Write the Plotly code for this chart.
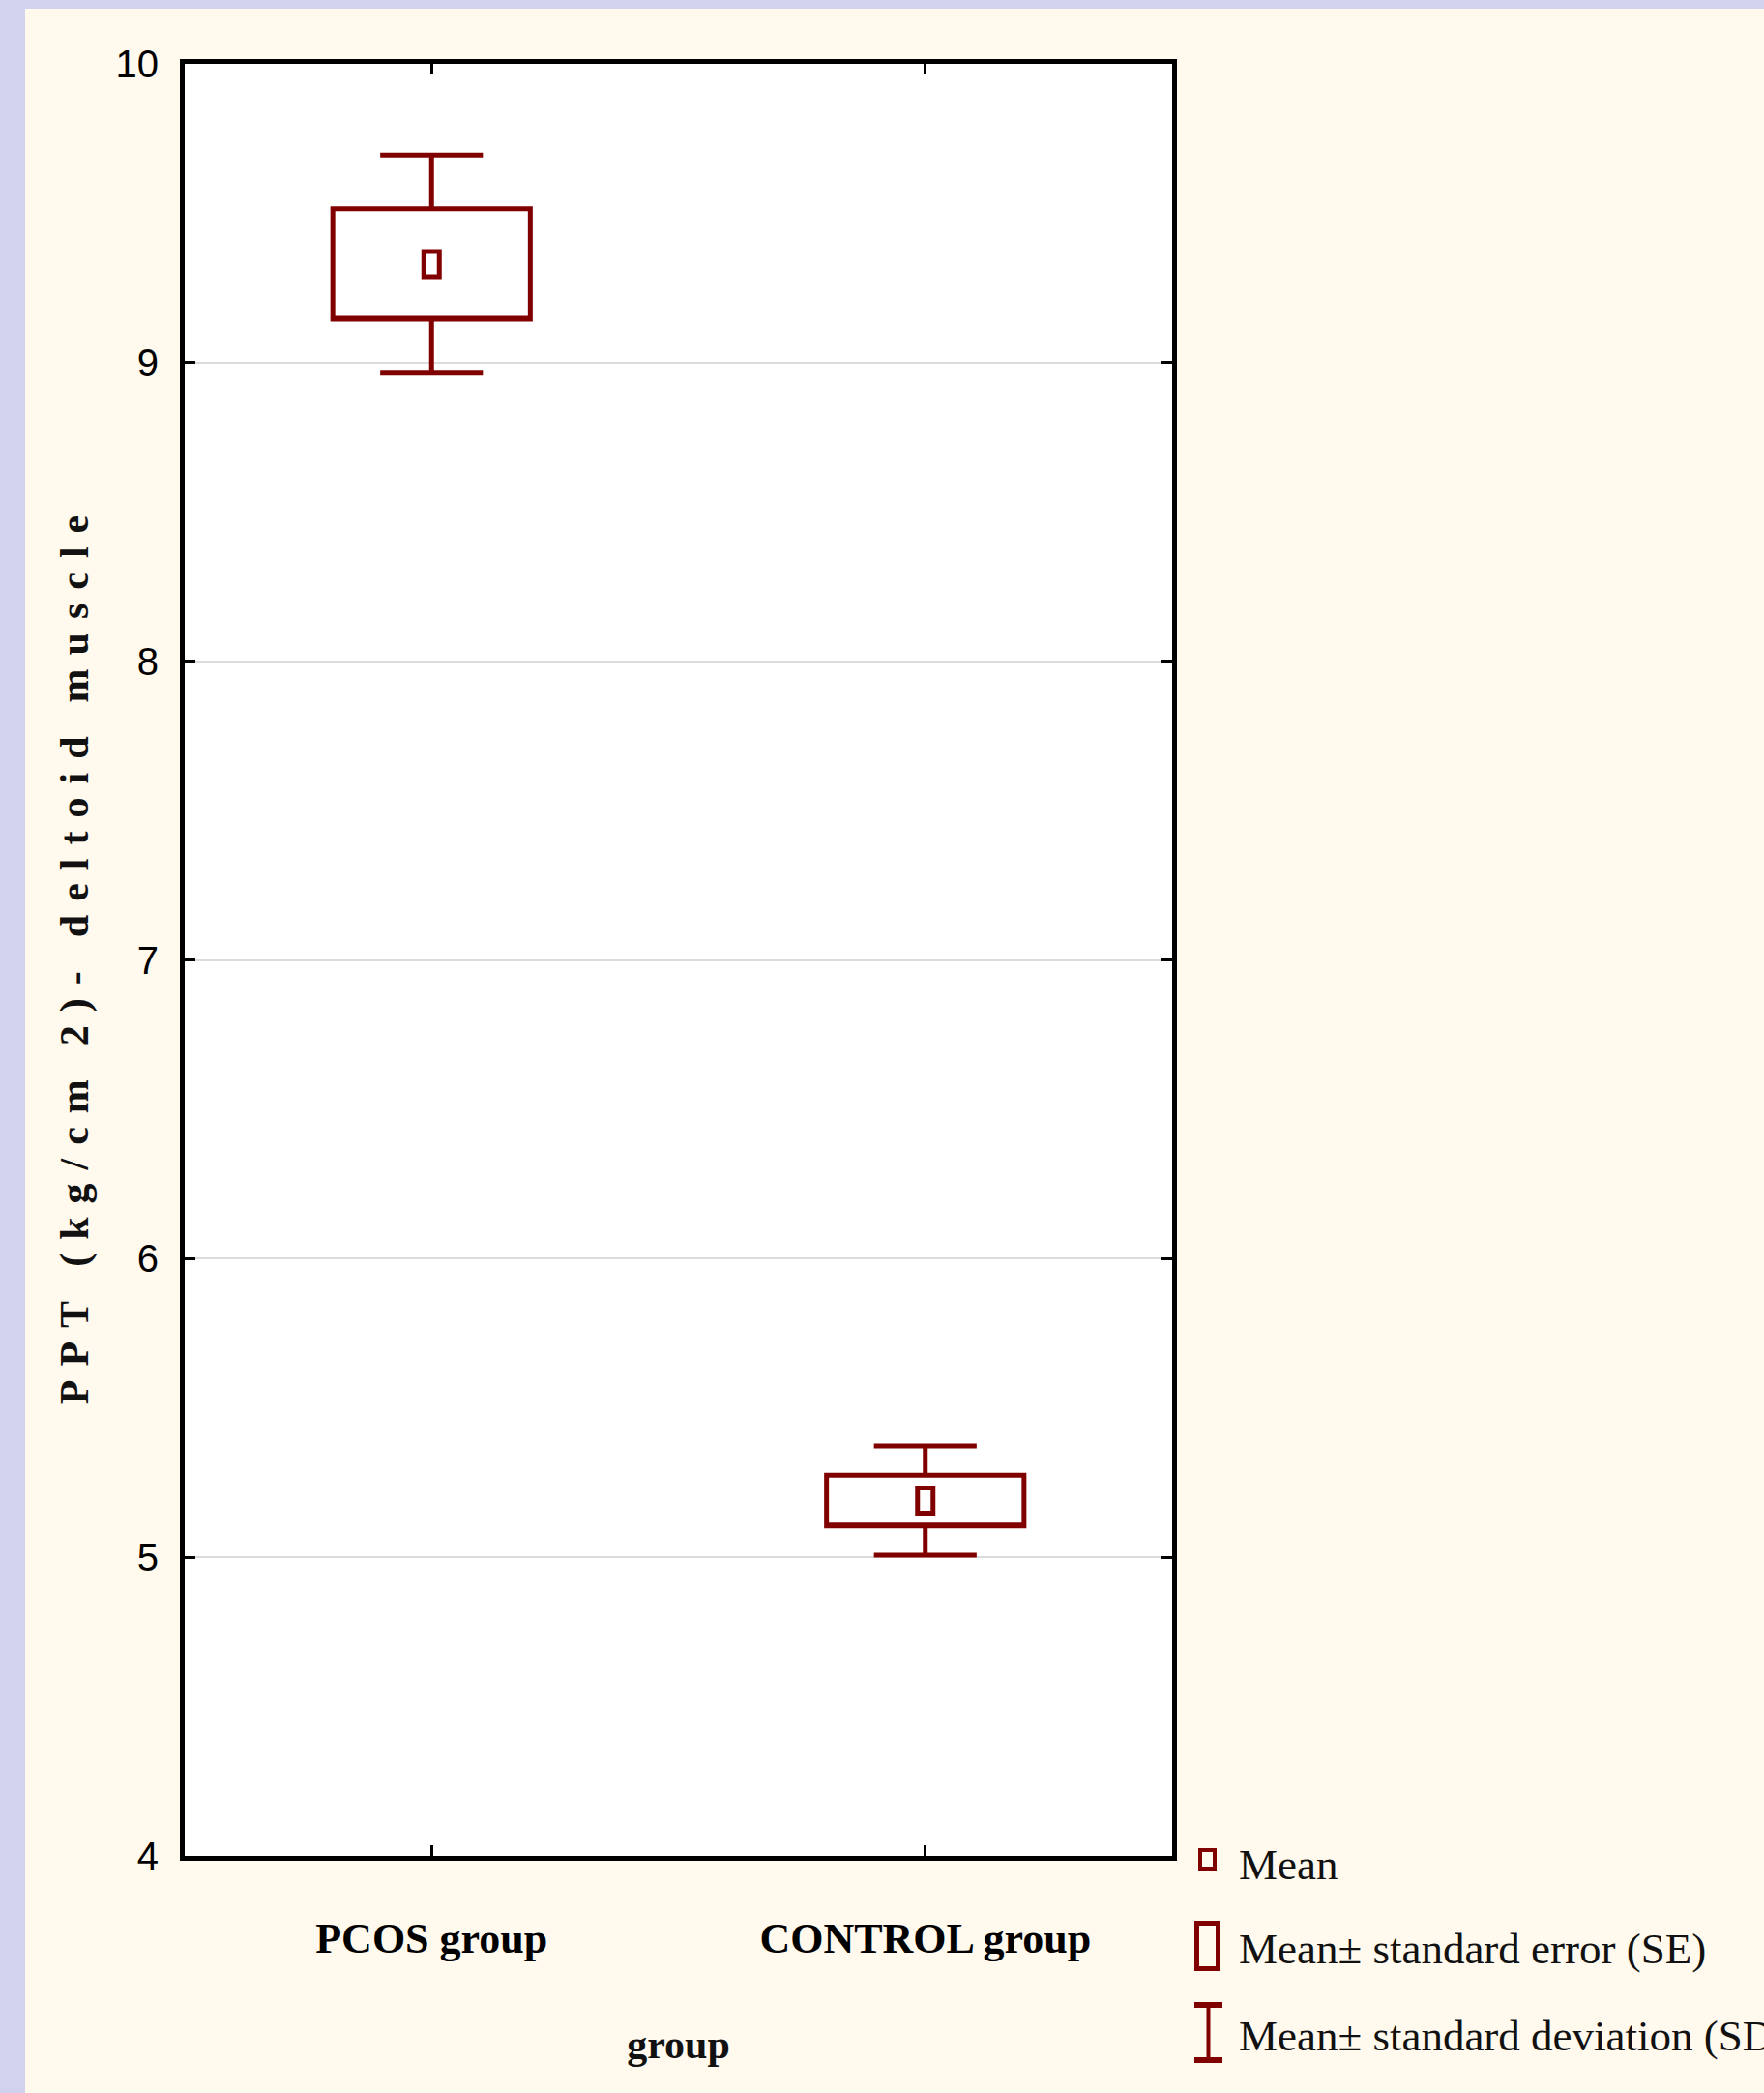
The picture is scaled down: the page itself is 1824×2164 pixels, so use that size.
import plotly.graph_objects as go

# ---------------- data ----------------
categories = ["PCOS group", "CONTROL group"]
mean_values = [9.33, 5.19]
se_values = [0.185, 0.085]
sd_values = [0.365, 0.183]
y_tick_values = [4, 5, 6, 7, 8, 9, 10]
y_tick_labels = ["4", "5", "6", "7", "8", "9", "10"]
legend_labels = ["Mean", "Mean\u00b1 standard error (SE)", "Mean\u00b1 standard deviation (SD)"]
x_title_text = "group"
y_title_text = "PPT (kg/cm 2)- deltoid muscle"

# ---------------- style ----------------
W, H = 1824, 2164
PL, PR, PT, PB = 191, 1212, 66, 1919     # plot area in pixels
DARK = "#800000"
CREAM = "#FFF9EE"
LAVENDER = "#D2D2EE"
SERIF = "Liberation Serif, Times New Roman, serif"
SANS = "Liberation Sans Narrow, Arial Narrow, Liberation Sans, Arial, sans-serif"

def xp(px):
    return (px - PL) / (PR - PL)

def yp(py):
    return (PB - py) / (PB - PT)

# spaced-out y title (letter spacing as in the original)
LETTER_GAP = "\u2004"
WORD_GAP = "\u2002\u2004"
y_title_spaced = WORD_GAP.join(LETTER_GAP.join(w) for w in y_title_text.split(" "))

q1 = [m - s for m, s in zip(mean_values, se_values)]
q3 = [m + s for m, s in zip(mean_values, se_values)]
lo = [m - d for m, d in zip(mean_values, sd_values)]
hi = [m + d for m, d in zip(mean_values, sd_values)]

fig = go.Figure()
fig.add_trace(go.Box(
    x=categories, q1=q1, median=q1, q3=q3, lowerfence=lo, upperfence=hi,
    width=0.4, whiskerwidth=0.52, boxpoints=False,
    line=dict(color=DARK, width=5), fillcolor="white",
    showlegend=False, hoverinfo="skip",
))

# mean markers (small open rectangles anchored at the mean)
for c, m in zip(categories, mean_values):
    fig.add_shape(type="rect", xref="x", yref="y",
                  xsizemode="pixel", ysizemode="pixel", xanchor=c, yanchor=m,
                  x0=-8, x1=8, y0=-13, y1=13,
                  line=dict(color=DARK, width=5), fillcolor="white", layer="above")

# lavender strips (left and top)
fig.add_shape(type="rect", xref="paper", yref="paper",
              x0=xp(0), x1=xp(26), y0=yp(H), y1=yp(0),
              line=dict(width=0), fillcolor=LAVENDER, layer="below")
fig.add_shape(type="rect", xref="paper", yref="paper",
              x0=xp(0), x1=xp(W), y0=yp(9), y1=yp(0),
              line=dict(width=0), fillcolor=LAVENDER, layer="below")

# ---------------- custom legend ----------------
LX = 1279
legend_y = [1928, 2015, 2105]
for lab, ly in zip(legend_labels, legend_y):
    fig.add_annotation(xref="paper", yref="paper", x=xp(LX), y=yp(ly),
                       xanchor="left", yanchor="middle", showarrow=False,
                       text=lab, font=dict(family=SERIF, size=45, color="#111111"))
# mean symbol
fig.add_shape(type="rect", xref="paper", yref="paper",
              x0=xp(1241), x1=xp(1256), y0=yp(1932), y1=yp(1913),
              line=dict(color=DARK, width=4), fillcolor="rgba(0,0,0,0)")
# SE symbol
fig.add_shape(type="rect", xref="paper", yref="paper",
              x0=xp(1237.5), x1=xp(1259.5), y0=yp(2035.5), y1=yp(1988.5),
              line=dict(color=DARK, width=5), fillcolor="rgba(0,0,0,0)")
# SD symbol
fig.add_shape(type="line", xref="paper", yref="paper",
              x0=xp(1249.5), x1=xp(1249.5), y0=yp(2130), y1=yp(2073),
              line=dict(color=DARK, width=4))
for yy in (2073, 2130):
    fig.add_shape(type="line", xref="paper", yref="paper",
                  x0=xp(1235), x1=xp(1264), y0=yp(yy), y1=yp(yy),
                  line=dict(color=DARK, width=6))

fig.update_layout(
    width=W, height=H,
    margin=dict(l=PL, r=W - PR, t=PT, b=H - PB, pad=0, autoexpand=False),
    paper_bgcolor=CREAM, plot_bgcolor="white",
    showlegend=False,
    xaxis=dict(
        type="category", range=[-0.5, 1.5],
        showgrid=False, zeroline=False,
        showline=True, linewidth=5, linecolor="black", mirror="ticks",
        ticks="inside", ticklen=11, tickwidth=3, tickcolor="black",
        tickfont=dict(family=SERIF, size=44, color="black", weight="bold"),
        ticklabelstandoff=42,
        title=dict(text=x_title_text, standoff=72,
                   font=dict(family=SERIF, size=42, color="#111111", weight="bold")),
        automargin=False,
    ),
    yaxis=dict(
        range=[4, 10], tickvals=y_tick_values, ticktext=y_tick_labels,
        showgrid=True, gridcolor="#DCDCDC", gridwidth=2, zeroline=False,
        showline=True, linewidth=5, linecolor="black", mirror="ticks",
        ticks="inside", ticklen=11, tickwidth=3, tickcolor="black",
        tickfont=dict(family=SANS, size=40, color="black"),
        ticklabelstandoff=14,
        title=dict(text=y_title_spaced, standoff=16,
                   font=dict(family=SERIF, size=42, color="#111111", weight="bold")),
        automargin=False,
    ),
)

fig.write_html("out.html", config={"displayModeBar": False},
               post_script="document.body.style.margin='0';document.body.style.overflow='hidden';")
